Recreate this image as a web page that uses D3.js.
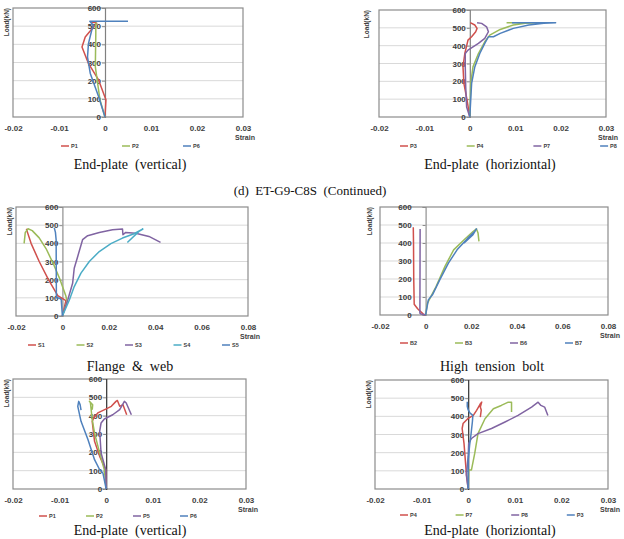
<!DOCTYPE html>
<html>
<head>
<meta charset="utf-8">
<script src="https://cdn.jsdelivr.net/npm/d3@7"></script>
<style>
  body { margin: 0; background: #fff; }
  svg { display: block; }
  .tick text { font-family: "Liberation Sans", Arial, sans-serif; font-weight: bold; fill: #404040; }
</style>
</head>
<body>
<svg id="fig" width="624" height="539"></svg>
<script>
// load axis ticks (kN)
var loadTicks = [0, 100, 200, 300, 400, 500, 600];
var strainTicksSmall = [-0.02, -0.01, 0, 0.01, 0.02, 0.03];
var strainTicksWide = [-0.02, 0, 0.02, 0.04, 0.06, 0.08];

// (1) end-plate vertical, top
var tvNames = ['P1', 'P2', 'P6'];
var tvP1 = [[0, 0], [0.0002, 95], [-0.0014, 204], [-0.0036, 295], [-0.005, 385], [-0.0043, 440], [-0.0025, 495], [-0.0018, 516], [-0.0022, 520], [-0.003, 522]];
var tvP2 = [[0, 0], [-0.0011, 95], [-0.0021, 276], [-0.002, 458], [-0.002, 512], [-0.0018, 520]];
var tvP6 = [[0, 0], [-0.0014, 113], [-0.0032, 240], [-0.0038, 330], [-0.0036, 404], [-0.0029, 476], [-0.0025, 504], [-0.0033, 527], [0.005, 527]];

// (2) end-plate horizontal, top
var thNames = ['P3', 'P4', 'P7', 'P8'];
var thP3 = [[0, 0], [-0.0006, 94], [-0.0013, 188], [-0.0015, 281], [-0.0011, 356], [-0.0004, 431], [0.0004, 450], [0.0013, 478], [0.0016, 497], [0.0011, 516], [0.0001, 529]];
var thP4 = [[0, 0], [0.0002, 188], [0.0007, 281], [0.0019, 356], [0.0033, 422], [0.0044, 459], [0.0067, 491], [0.0096, 516], [0.0122, 525], [0.0148, 529], [0.0081, 529]];
var thP7 = [[0, 0], [-0.0007, 56], [-0.0009, 169], [-0.001, 281], [-0.001, 356], [-0.0004, 375], [0.0019, 413], [0.0033, 441], [0.0041, 478], [0.0037, 506], [0.0026, 525], [0.0016, 529]];
var thP8 = [[0, 0], [0.0004, 188], [0.0011, 281], [0.0022, 356], [0.0033, 413], [0.0041, 450], [0.0052, 450], [0.0067, 469], [0.0096, 497], [0.013, 516], [0.0163, 525], [0.0189, 529], [0.0093, 529]];

// (3) flange & web
var fwNames = ['S1', 'S2', 'S3', 'S4', 'S5'];
var fwS1 = [[0, 0], [0.0015, 85], [-0.002, 112], [-0.006, 200], [-0.01, 300], [-0.0135, 400], [-0.0153, 470], [-0.0155, 480]];
var fwS2 = [[0, 0], [0.002, 80], [0.0015, 110], [-0.001, 200], [-0.004, 290], [-0.007, 370], [-0.01, 430], [-0.013, 470], [-0.0148, 480], [-0.016, 460], [-0.0165, 400]];
var fwS3 = [[0, 0], [0.0023, 88], [0.0044, 180], [0.0051, 263], [0.0066, 328], [0.0087, 420], [0.0109, 442], [0.0159, 460], [0.0216, 475], [0.0259, 479], [0.0261, 447], [0.0273, 460], [0.0316, 456], [0.0373, 438], [0.0423, 405]];
var fwS4 = [[0, 0], [0.003, 88], [0.0051, 162], [0.008, 236], [0.0116, 300], [0.0159, 355], [0.0209, 398], [0.0259, 429], [0.0309, 453], [0.0347, 479], [0.033, 466], [0.028, 405]];
var fwS5 = [[0, 0], [-0.0005, 90], [-0.0012, 98], [-0.0025, 100], [-0.0026, 110], [-0.0027, 420], [-0.003, 460], [-0.0035, 485]];

// (4) high tension bolt
var hbNames = ['B2', 'B3', 'B6', 'B7'];
var hbB2 = [[0, 0], [-0.001, 5], [-0.0035, 35], [-0.005, 60], [-0.0052, 200], [-0.0053, 400], [-0.0054, 487]];
var hbB3 = [[0, 0], [0.0008, 65], [0.0023, 102], [0.0046, 158], [0.0085, 270], [0.0123, 362], [0.0169, 418], [0.0208, 464], [0.0223, 478], [0.023, 455], [0.0234, 409]];
var hbB6 = [[0, 0], [-0.002, 5], [-0.0025, 10], [-0.0024, 478]];
var hbB7 = [[0, 0], [0.0012, 84], [0.003, 112], [0.0062, 195], [0.01, 288], [0.0138, 362], [0.0185, 427], [0.0215, 464], [0.0223, 478], [0.0208, 446], [0.0169, 400]];

// (5) end-plate vertical, bottom
var bvNames = ['P1', 'P2', 'P5', 'P6'];
var bvP1 = [[0, 0], [-0.0001, 105], [-0.0014, 178], [-0.0025, 260], [-0.003, 369], [-0.0027, 387], [-0.0018, 415], [-0.0001, 436], [0.0011, 451], [0.0021, 478], [0.0024, 483], [0.0029, 451], [0.0036, 460], [0.0044, 405]];
var bvP2 = [[0, 0], [-0.0004, 105], [-0.0014, 196], [-0.0025, 305], [-0.003, 378], [-0.0034, 473], [-0.0036, 478], [-0.0029, 460], [-0.003, 433]];
var bvP5 = [[0, 0], [-0.0001, 105], [-0.0011, 196], [-0.0014, 315], [-0.0011, 360], [-0.0004, 382], [0.0014, 405], [0.0029, 433], [0.0039, 478], [0.0043, 469], [0.0054, 405]];
var bvP6 = [[0, 0], [-0.0007, 87], [-0.0014, 105], [-0.0025, 160], [-0.0039, 269], [-0.0054, 369], [-0.0061, 451], [-0.0059, 478], [-0.0056, 460], [-0.0054, 430]];

// (6) end-plate horizontal, bottom
var bhNames = ['P4', 'P7', 'P8', 'P3'];
var bhP4 = [[0, 0], [-0.0004, 87], [-0.0009, 251], [-0.0013, 333], [-0.0011, 360], [-0.0001, 387], [0.0011, 405], [0.0018, 433], [0.0026, 469], [0.0029, 478], [0.0026, 451], [0.0028, 435], [0.0026, 396]];
var bhP7 = [[0, 0], [0.0001, 105], [0.0007, 105], [0.0014, 196], [0.0021, 305], [0.0036, 387], [0.0054, 442], [0.0071, 460], [0.0086, 478], [0.0093, 478], [0.0093, 424]];
var bhP8 = [[0, 0], [-0.0004, 78], [0, 178], [0.0001, 251], [0.0007, 278], [0.0021, 305], [0.005, 333], [0.0079, 369], [0.0107, 405], [0.0136, 451], [0.015, 478], [0.0156, 460], [0.0164, 451], [0.0171, 405]];
var bhP3 = [[0, 0], [0, 160], [0.0003, 240], [0.0006, 300], [0.0009, 370], [0.001, 405], [0.0004, 418], [0, 435], [-0.0002, 455], [-0.0002, 480]];

var red = '#d0504d', green = '#9bbb59', purple = '#8064a2', cyan = '#4bacc6', blue = '#4f81bd';

var svg = d3.select('#fig');

function drawChart(c) {
  var g = svg.append('g');
  var x = d3.scaleLinear().domain(c.xDomain).range([c.left, c.right]);
  var y = d3.scaleLinear().domain([0, 600]).range([c.bottom, c.top]);

  // gridlines
  g.selectAll('.grid')
    .data(loadTicks.slice(1, -1))
    .enter()
    .append('line')
    .attr('x1', c.left)
    .attr('x2', c.right)
    .attr('y1', d => y(d))
    .attr('y2', d => y(d))
    .attr('stroke', '#d9d9d9')
    .attr('stroke-width', 1);

  // plot frame
  g.append('rect')
    .attr('x', c.left)
    .attr('y', c.top)
    .attr('width', c.right - c.left)
    .attr('height', c.bottom - c.top)
    .attr('fill', 'none')
    .attr('stroke', '#8c8c8c')
    .attr('stroke-width', 1.2);

  // x labels under the frame
  var xAxis = g.append('g')
    .attr('transform', `translate(0, ${c.bottom})`)
    .call(d3.axisBottom(x).tickValues(c.xTicks).tickSize(0).tickPadding(8).tickFormat(d => String(d)));
  xAxis.select('.domain').remove();
  xAxis.selectAll('text').style('font-size', '8px');

  g.append('text')
    .attr('x', c.right + 2)
    .attr('y', c.bottom + 23)
    .attr('text-anchor', 'middle')
    .attr('font-family', 'Liberation Sans, Arial, sans-serif')
    .attr('font-weight', 'bold')
    .attr('font-size', '7px')
    .attr('fill', '#404040')
    .text('Strain');

  // vertical value axis at zero strain (labels first, lines drawn over them)
  var yAxis = g.append('g')
    .attr('transform', `translate(${x(0)}, 0)`)
    .call(d3.axisLeft(y).tickValues(loadTicks).tickSize(3).tickPadding(c.labelPad || 1));
  yAxis.select('.domain').attr('stroke', c.axisColor).attr('stroke-width', 1.2);
  yAxis.selectAll('.tick line').attr('stroke', '#8c8c8c');
  yAxis.selectAll('text').style('font-size', '8px');

  // series
  var line = d3.line().x(d => x(d[0])).y(d => y(d[1]));
  c.series.forEach(s => {
    g.append('path')
      .datum(s.values)
      .attr('d', line)
      .attr('fill', 'none')
      .attr('stroke', s.color)
      .attr('stroke-width', 1.5)
      .attr('stroke-linejoin', 'round');
  });

  // y title
  g.append('text')
    .attr('transform', `translate(${c.yTitleX}, ${c.top}) rotate(-90)`)
    .attr('text-anchor', 'end')
    .attr('font-family', 'Liberation Sans, Arial, sans-serif')
    .attr('font-weight', 'bold')
    .attr('font-size', '6.5px')
    .attr('fill', '#404040')
    .attr('dy', '0.35em')
    .text('Load(kN)');

  // legend
  c.series.forEach((s, i) => {
    var lx = c.legendX + i * c.legendStep;
    g.append('line')
      .attr('x1', lx)
      .attr('x2', lx + 8)
      .attr('y1', c.legendY)
      .attr('y2', c.legendY)
      .attr('stroke', s.color)
      .attr('stroke-width', 1.5);
    g.append('text')
      .attr('x', lx + 10)
      .attr('y', c.legendY)
      .attr('dy', '0.35em')
      .attr('font-family', 'Liberation Sans, Arial, sans-serif')
      .attr('font-weight', 'bold')
      .attr('font-size', '5.5px')
      .attr('fill', '#404040')
      .text(s.name);
  });

  // caption
  svg.append('text')
    .attr('x', c.titleX)
    .attr('y', c.titleY)
    .attr('text-anchor', 'middle')
    .attr('font-family', 'Liberation Serif, Times New Roman, serif')
    .attr('font-size', '14px')
    .attr('fill', '#111')
    .attr('xml:space', 'preserve')
    .text(c.title);
}

function mk(names, arrs, colors) {
  return names.map((n, i) => ({ name: n, values: arrs[i], color: colors[i] }));
}

drawChart({
  left: 13, right: 243, top: 8, bottom: 117, xDomain: [-0.02, 0.03], xTicks: strainTicksSmall,
  series: mk(tvNames, [tvP1, tvP2, tvP6], [red, green, blue]),
  axisColor: '#808080', yTitleX: 7, legendX: 61, legendStep: 61, legendY: 146,
  title: 'End-plate  (vertical)', titleX: 130, titleY: 169
});

drawChart({
  left: 379, right: 606, top: 10, bottom: 117, xDomain: [-0.02, 0.03], xTicks: strainTicksSmall,
  series: mk(thNames, [thP3, thP4, thP7, thP8], [red, green, purple, blue]),
  axisColor: '#808080', yTitleX: 367, legendX: 400, legendStep: 66.7, legendY: 146,
  title: 'End-plate  (horiziontal)', titleX: 490, titleY: 169
});

svg.append('text')
  .attr('x', 310)
  .attr('y', 195)
  .attr('text-anchor', 'middle')
  .attr('font-family', 'Liberation Serif, Times New Roman, serif')
  .attr('font-size', '13px')
  .attr('fill', '#111')
  .attr('xml:space', 'preserve')
  .text('(d)  ET-G9-C8S  (Continued)');

drawChart({
  left: 16, right: 248, top: 207, bottom: 316, xDomain: [-0.02, 0.08], xTicks: strainTicksWide,
  series: mk(fwNames, [fwS1, fwS2, fwS3, fwS4, fwS5], [red, green, purple, cyan, blue]),
  axisColor: '#909090', yTitleX: 10, legendX: 28, legendStep: 48.5, legendY: 345,
  title: 'Flange  &  web', titleX: 130, titleY: 371
});

drawChart({
  left: 380, right: 608, top: 207, bottom: 315, xDomain: [-0.02, 0.08], xTicks: strainTicksWide,
  series: mk(hbNames, [hbB2, hbB3, hbB6, hbB7], [red, green, purple, blue]),
  axisColor: '#909090', yTitleX: 370, legendX: 400, legendStep: 55, legendY: 343, labelPad: 11,
  title: 'High  tension  bolt', titleX: 492, titleY: 371
});

drawChart({
  left: 13, right: 246, top: 379, bottom: 489, xDomain: [-0.02, 0.03], xTicks: strainTicksSmall,
  series: mk(bvNames, [bvP1, bvP2, bvP5, bvP6], [red, green, purple, blue]),
  axisColor: '#303030', yTitleX: 7, legendX: 39, legendStep: 47, legendY: 516,
  title: 'End-plate  (vertical)', titleX: 130, titleY: 535
});

drawChart({
  left: 375, right: 608, top: 380, bottom: 489, xDomain: [-0.02, 0.03], xTicks: strainTicksSmall,
  series: mk(bhNames, [bhP4, bhP7, bhP8, bhP3], [red, green, purple, blue]),
  axisColor: '#303030', yTitleX: 369, legendX: 400, legendStep: 55.6, legendY: 515,
  title: 'End-plate  (horiziontal)', titleX: 490, titleY: 535
});
</script>
</body>
</html>
